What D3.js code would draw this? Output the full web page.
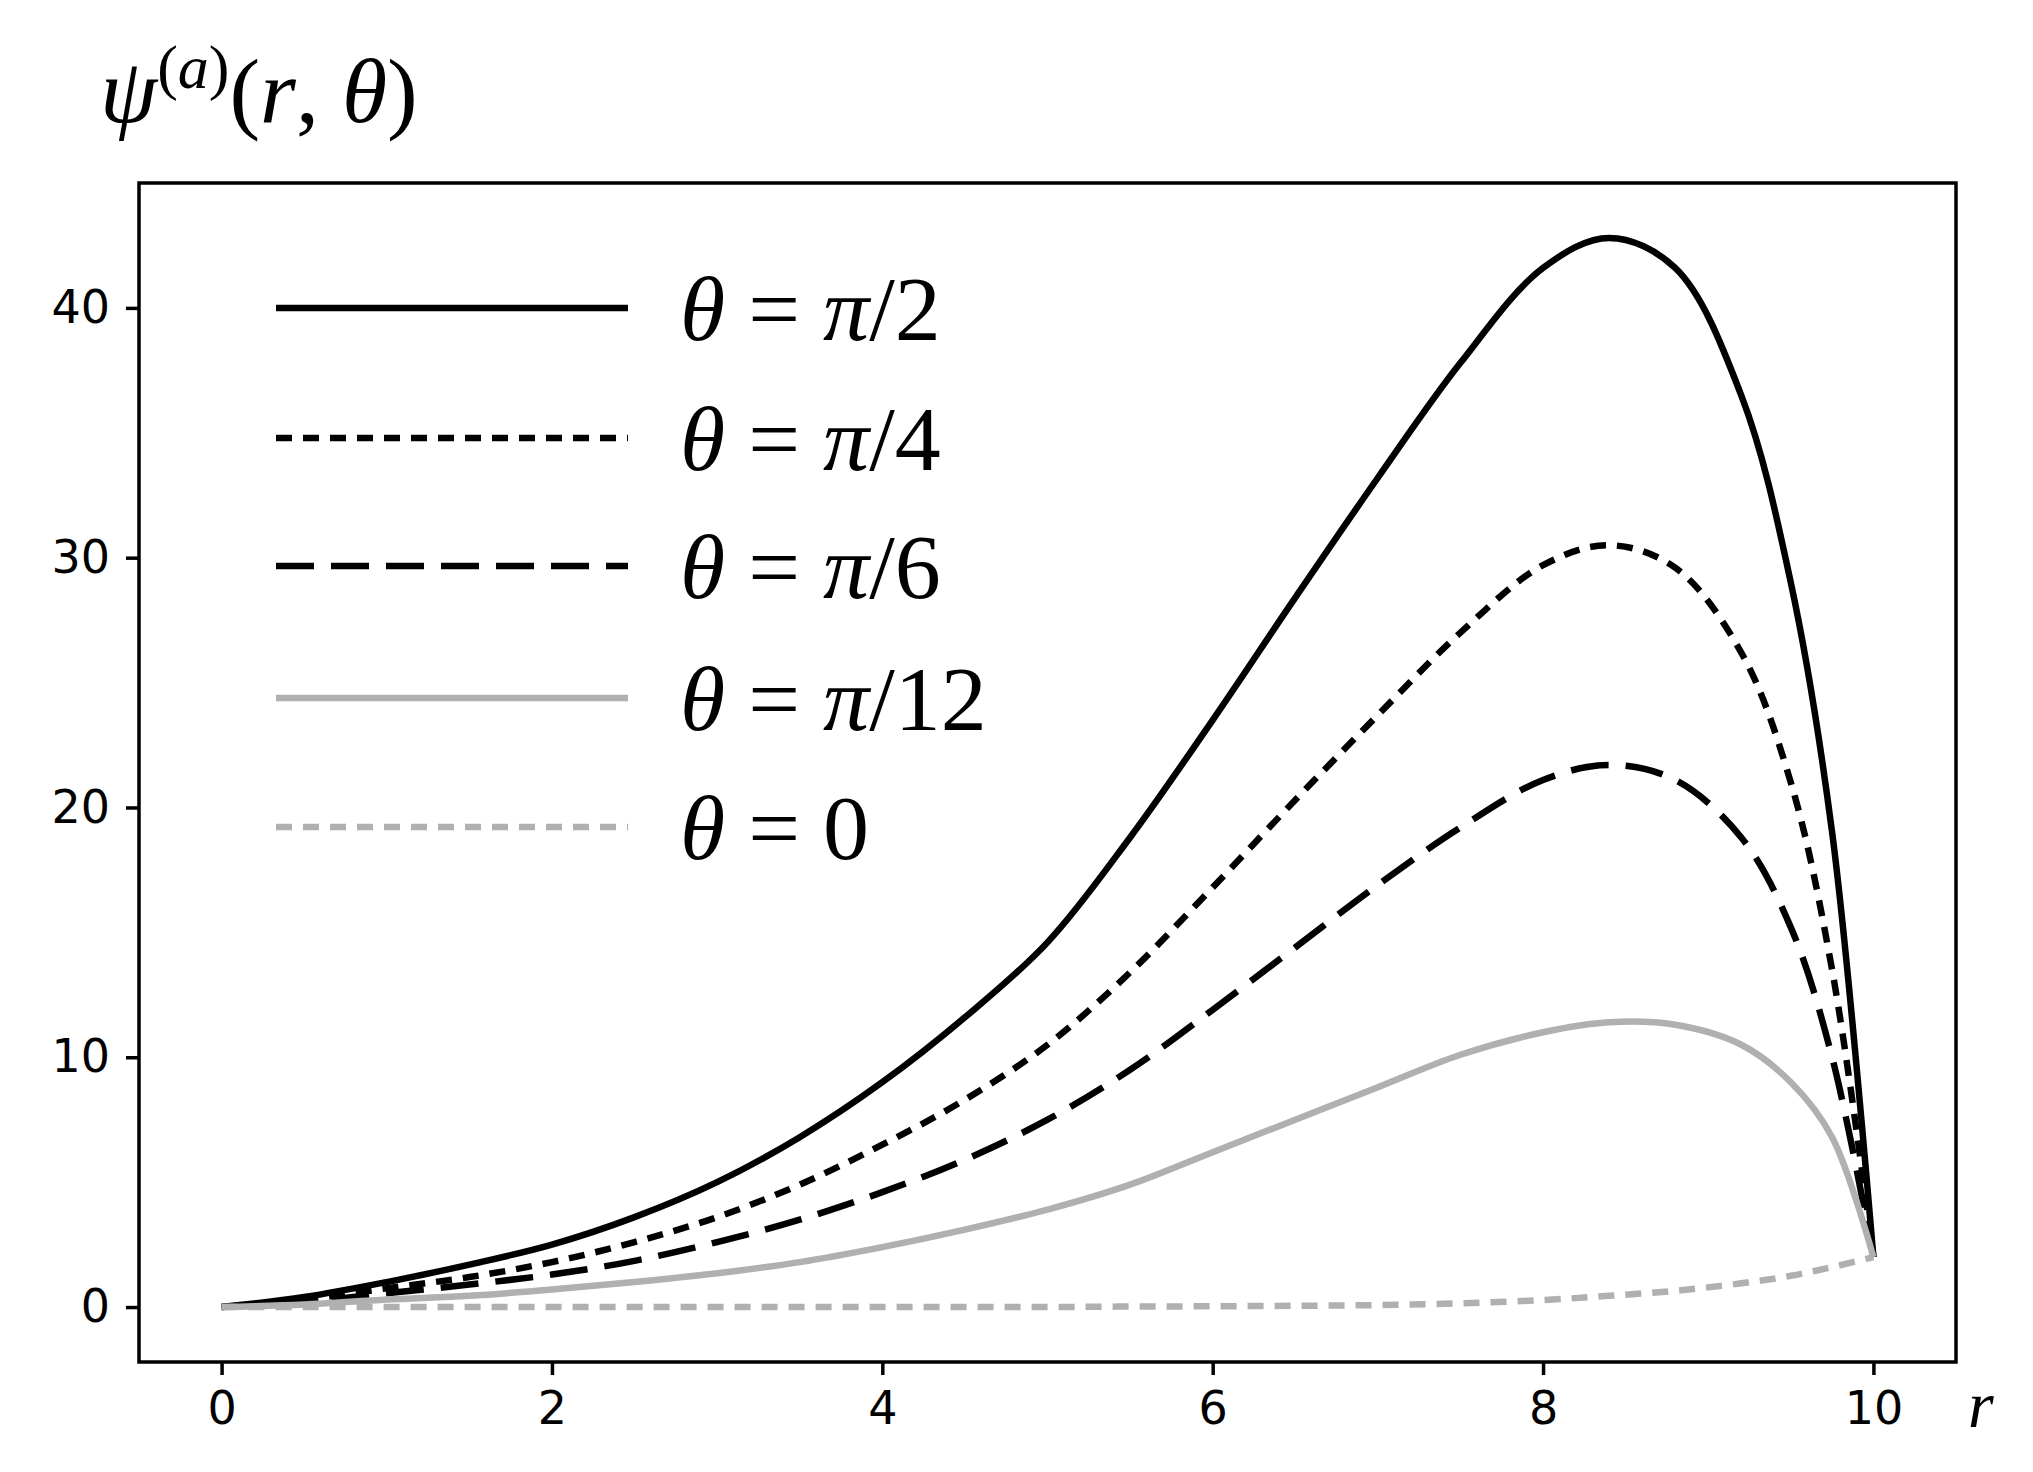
<!DOCTYPE html>
<html><head><meta charset="utf-8">
<script src="https://cdn.jsdelivr.net/npm/d3@7"></script>
<style>body{margin:0;background:#fff}</style>
</head><body><div id="chart"></div>
<script>
// valores
const rValues = [0,0.5,1,1.5,2,2.5,3,3.5,4,4.5,5,5.5,6,6.5,7,7.5,8,8.4,8.8,9.2,9.5,9.75,10]
const psiHalf = [0,0.4,1.0,1.7,2.5,3.6,5,6.8,9.0,11.6,14.6,18.8,23.5,28.4,33.2,37.8,41.6,42.8,41.6,36.5,29,19,2]
const psiQuarter = [0,0.3,0.75,1.2,1.8,2.6,3.6,4.9,6.5,8.3,10.5,13.4,16.8,20.3,23.7,27,29.7,30.5,29.6,26.2,21,13.5,2]
const psiSixth = [0,0.2,0.55,0.9,1.3,1.85,2.6,3.5,4.6,5.9,7.5,9.5,11.9,14.4,16.9,19.2,21.1,21.7,21.1,18.8,15.2,10,2]
const psiTwelfth = [0,0.1,0.3,0.45,0.7,1.0,1.35,1.8,2.4,3.1,3.9,4.9,6.2,7.5,8.8,10.1,11.0,11.4,11.3,10.5,9.0,6.8,2]
const psiZero = [0,0,0,0,0,0,0,0,0,0,0,0.02,0.03,0.05,0.08,0.15,0.28,0.45,0.65,0.95,1.25,1.6,2]
const labels = ['π/2','π/4','π/6','π/12','0']
const xTicks = [0,2,4,6,8,10]
const yTicks = [0,10,20,30,40]

const series = [
  {vals: psiHalf, color: '#000', dash: null},
  {vals: psiQuarter, color: '#000', dash: '16,11'},
  {vals: psiSixth, color: '#000', dash: '38,17'},
  {vals: psiTwelfth, color: '#b0b0b0', dash: null},
  {vals: psiZero, color: '#b0b0b0', dash: '16,11'},
]

const W = 2033, H = 1472
const L = 139, R = 1956, T = 183, B = 1362
const svg = d3.select('#chart').append('svg').attr('width', W).attr('height', H)
const x = d3.scaleLinear().domain([-0.5, 10.5]).range([L, R])
const y = d3.scaleLinear().domain([-2.2, 45]).range([B, T])

const line = d3.line().x((d, i) => x(rValues[i])).y(d => y(d)).curve(d3.curveCatmullRom.alpha(0.5))
series.forEach(s => {
  svg.append('path').attr('d', line(s.vals)).attr('fill', 'none')
    .attr('stroke', s.color).attr('stroke-width', 6.5)
    .attr('stroke-dasharray', s.dash)
})

const xa = svg.append('g').attr('transform', `translate(0,${B})`)
  .call(d3.axisBottom(x).tickValues(xTicks).tickSize(13).tickPadding(16))
const ya = svg.append('g').attr('transform', `translate(${L},0)`)
  .call(d3.axisLeft(y).tickValues(yTicks).tickSize(13).tickPadding(16))
;[xa, ya].forEach(a => {
  a.select('.domain').remove()
  a.selectAll('line').attr('stroke-width', 3.5)
  a.selectAll('text').attr('font-family', 'DejaVu Sans').attr('font-size', 46)
})
svg.append('rect').attr('x', L).attr('y', T).attr('width', R - L).attr('height', B - T)
  .attr('fill', 'none').attr('stroke', '#000').attr('stroke-width', 3.5)

// leyenda
const rows = [308, 438, 566, 698, 827]
series.forEach((s, i) => {
  svg.append('line').attr('x1', 276).attr('x2', 628).attr('y1', rows[i]).attr('y2', rows[i])
    .attr('stroke', s.color).attr('stroke-width', 6.5).attr('stroke-dasharray', s.dash)
  const t = svg.append('text').attr('x', 680).attr('y', rows[i] + 32)
    .attr('font-family', 'Liberation Serif').attr('font-size', 92)
  t.append('tspan').attr('font-style', 'italic').text('θ')
  t.append('tspan').text(' = ')
  const lab = labels[i]
  if (lab.startsWith('π')) {
    t.append('tspan').attr('font-style', 'italic').text('π')
    t.append('tspan').text(lab.slice(1))
  } else t.append('tspan').text(lab)
})

// títulos
const tt = svg.append('text').attr('x', 100).attr('y', 122)
  .attr('font-family', 'Liberation Serif').attr('font-size', 92)
tt.append('tspan').attr('font-style', 'italic').text('ψ')
tt.append('tspan').attr('font-size', 62).attr('dy', -34).text('(')
tt.append('tspan').attr('font-size', 62).attr('font-style', 'italic').text('a')
tt.append('tspan').attr('font-size', 62).text(')')
tt.append('tspan').attr('dy', 34).text('(')
tt.append('tspan').attr('font-style', 'italic').text('r')
tt.append('tspan').text(', ')
tt.append('tspan').attr('font-style', 'italic').text('θ')
tt.append('tspan').text(')')
svg.append('text').attr('x', 1968).attr('y', 1427).attr('font-family', 'Liberation Serif')
  .attr('font-style', 'italic').attr('font-size', 66).text('r')
</script></body></html>
